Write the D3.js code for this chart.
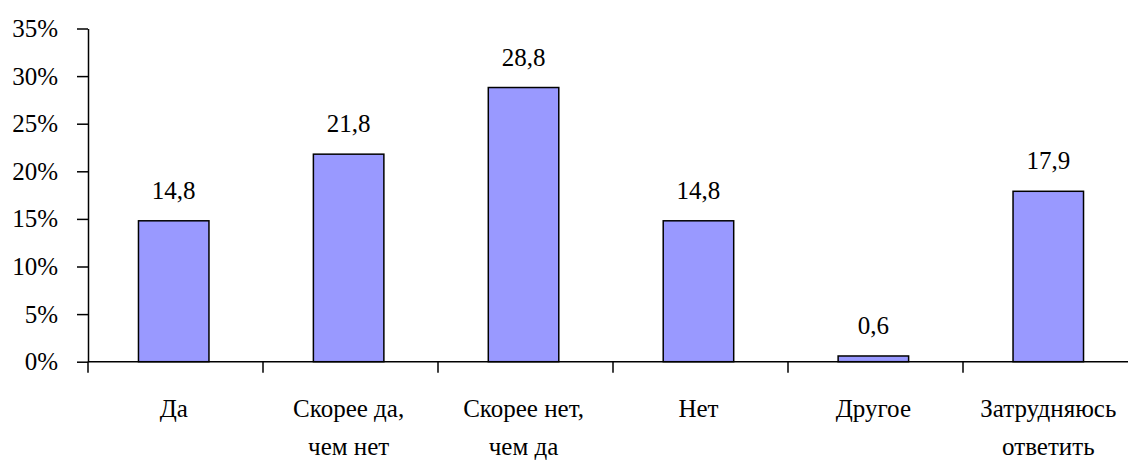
<!DOCTYPE html>
<html><head><meta charset="utf-8">
<script src="https://cdn.jsdelivr.net/npm/d3@7"></script>
<style>body{margin:0;background:#fff}svg{display:block}</style>
</head><body><svg id="c" width="1128" height="461"></svg>
<script>
const categories = [["Да"], ["Скорее да,", "чем нет"], ["Скорее нет,", "чем да"], ["Нет"], ["Другое"], ["Затрудняюсь", "ответить"]];
const values = [14.8, 21.8, 28.8, 14.8, 0.6, 17.9];
const valueLabels = ["14,8", "21,8", "28,8", "14,8", "0,6", "17,9"];
const yTicks = [0, 5, 10, 15, 20, 25, 30, 35];

const FONT = '"Times New Roman", Times, Tinos, "Liberation Serif", "DejaVu Serif", "Noto Serif", FreeSerif, serif';
const svg = d3.select("#c");
const x0 = 88, x1 = 1138, yTop = 28.5, yBot = 361.7;
const x = d3.scaleBand().domain(d3.range(categories.length)).range([x0 - 2, x1 - 2]).paddingInner(0.597).paddingOuter(0.3);
const y = d3.scaleLinear().domain([0, 35]).range([yBot, yTop]);

// bars
svg.selectAll("rect.bar").data(values).enter().append("rect")
  .attr("x", (d,i) => x(i)).attr("y", d => y(d))
  .attr("width", x.bandwidth()).attr("height", d => y(0) - y(d))
  .attr("fill", "#9999ff").attr("stroke", "#000").attr("stroke-width", 1.5);

// y axis
const yAxis = d3.axisLeft(y).tickValues(yTicks).tickSize(11).tickSizeOuter(0).tickFormat(d => d + "%");
const gy = svg.append("g").attr("transform", `translate(${x0},0)`).call(yAxis);
gy.attr("font-family", null).attr("font-size", null);
gy.select(".domain").attr("stroke", "#000").attr("stroke-width", 1.5);
gy.selectAll(".tick line").attr("stroke", "#000").attr("stroke-width", 1.5);
gy.selectAll(".tick text").attr("x", -30).attr("dy", "0.32em").attr("fill", "#000")
  .style("font-size", "25px").style("font-family", FONT);

// x axis
const gx = svg.append("g");
gx.append("line").attr("x1", x0).attr("x2", x1).attr("y1", yBot).attr("y2", yBot).attr("stroke", "#000").attr("stroke-width", 1.5);
const step = (x1 - x0) / categories.length;
gx.selectAll("line.t").data(d3.range(categories.length + 1)).enter().append("line")
  .attr("x1", i => x0 + i * step).attr("x2", i => x0 + i * step)
  .attr("y1", yBot).attr("y2", yBot + 11).attr("stroke", "#000").attr("stroke-width", 1.5);

// category labels
const cl = svg.selectAll("text.cat").data(categories).enter().append("text")
  .attr("text-anchor", "middle").style("font-size", "25px").style("font-family", FONT)
  .attr("transform", (d,i) => `translate(${x(i) + x.bandwidth()/2},417)`);
cl.selectAll("tspan").data(d => d).enter().append("tspan")
  .attr("x", 0).attr("y", (d,j) => j * 38).text(d => d);

// value labels
svg.selectAll("text.val").data(values).enter().append("text")
  .attr("text-anchor", "middle").style("font-size", "25px").style("font-family", FONT)
  .attr("x", (d,i) => x(i) + x.bandwidth()/2).attr("y", d => y(d) - 22)
  .text((d,i) => valueLabels[i]);
</script></body></html>
